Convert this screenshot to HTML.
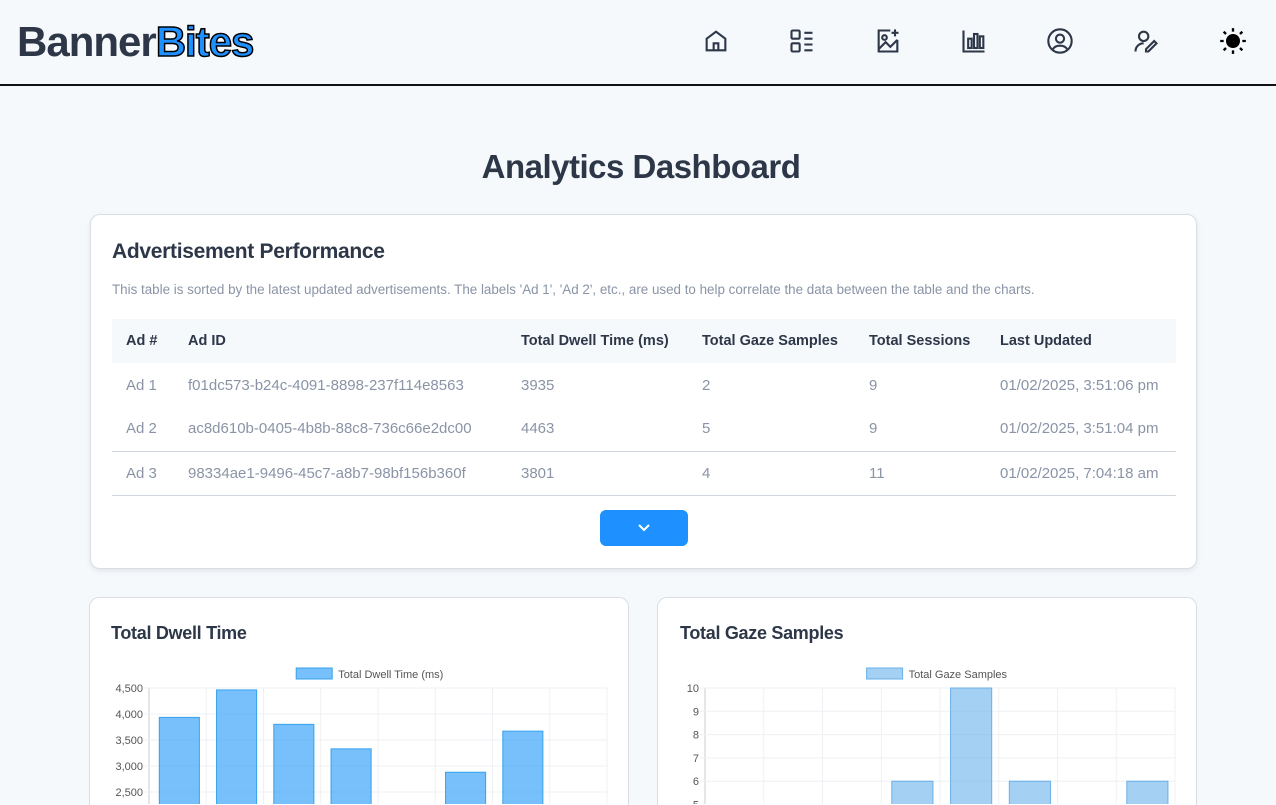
<!DOCTYPE html>
<html style="height:805px;overflow:hidden"><head><meta charset="utf-8"><style>
*{box-sizing:border-box;margin:0;padding:0}
body{width:1276px;height:805px;overflow:hidden;background:#f5f9fc;font-family:"Liberation Sans",sans-serif;color:#2d3748;position:relative}
.hdr{position:absolute;left:0;top:0;width:1276px;height:86px;border-bottom:2px solid #111;background:#f5f9fc}
.logo{position:absolute;left:17px;top:18px;font-size:42px;font-weight:bold;letter-spacing:-1px;color:#2d3748}
.logo span{color:#1e90ff;-webkit-text-stroke:1.5px #000}
.ic{position:absolute;top:27px;width:28px;height:28px}
h1{position:absolute;top:148px;left:3px;width:100%;text-align:center;font-size:33px;font-weight:bold;color:#2d3748;letter-spacing:-0.5px}
.card{position:absolute;background:#fff;border:1px solid #d9dee5;border-radius:10px;box-shadow:0 2px 6px rgba(0,0,0,.08)}
.card.open{border-bottom:none;border-radius:10px 10px 0 0;box-shadow:none}
.ct{position:absolute;left:21px;font-size:21px;font-weight:bold;letter-spacing:-0.3px}
.desc{position:absolute;left:21px;top:67px;font-size:13.4px;color:#8a94a6}
table{position:absolute;left:21px;top:104px;width:1064px;border-collapse:collapse;font-size:14.5px}
th{background:#f5f9fc;height:44px;text-align:left;font-weight:bold;color:#2d3748}
td{height:44px;color:#8a94a6;font-size:15px}
th,td{padding-left:14px}
tr.b td{border-bottom:1px solid #cfd5dc}
.btn{position:absolute;left:509px;top:295px;width:88px;height:36px;background:#1e90ff;border-radius:6px}
</style></head><body>
<div class="hdr">
<div class="logo">Banner<span>Bites</span></div>
<svg class="ic" style="left:702px" viewBox="0 0 24 24" fill="none" stroke="#2d3748" stroke-width="1.8"><path d="M4 10l8-6 8 6v10H4z M10 20v-6h4v6"/></svg>
<svg class="ic" style="left:788px" viewBox="0 0 24 24" fill="none" stroke="#2d3748" stroke-width="1.8"><rect x="3" y="3" width="7" height="7" rx="1"/><rect x="3" y="14" width="7" height="7" rx="1"/><path d="M14 5h7M14 10h7M14 15h7M14 20h7"/></svg>
<svg class="ic" style="left:874px" viewBox="0 0 24 24" fill="none" stroke="#2d3748" stroke-width="1.8"><path d="M14 3H4v18h16V11"/><circle cx="9" cy="9" r="2"/><path d="M4 19l6-6 4 4 6-6M18 2v6M15 5h6"/></svg>
<svg class="ic" style="left:960px" viewBox="0 0 24 24" fill="none" stroke="#2d3748" stroke-width="1.8"><path d="M3 3v18h18"/><rect x="7" y="10" width="3" height="8"/><rect x="12" y="6" width="3" height="12"/><rect x="17" y="8" width="3" height="10"/></svg>
<svg class="ic" style="left:1046px" viewBox="0 0 24 24" fill="none" stroke="#2d3748" stroke-width="1.8"><circle cx="12" cy="12" r="10"/><circle cx="12" cy="10" r="3.5"/><path d="M6 19c2-4 10-4 12 0"/></svg>
<svg class="ic" style="left:1132px" viewBox="0 0 24 24" fill="none" stroke="#2d3748" stroke-width="1.8"><circle cx="10" cy="8" r="4"/><path d="M3 21c0-4 3-7 7-7M14 21l7-7-2-2-7 7v2z"/></svg>
<svg class="ic" style="left:1219px" viewBox="0 0 24 24" stroke="#000" stroke-width="2"><circle cx="12" cy="12" r="5" fill="#000"/><path d="M12 1v3M12 20v3M1 12h3M20 12h3M4 4l2 2M18 18l2 2M4 20l2-2M18 6l2-2"/></svg>
</div>
<h1>Analytics Dashboard</h1>
<div class="card" style="left:90px;top:214px;width:1107px;height:355px">
<div class="ct" style="top:25px">Advertisement Performance</div>
<div class="desc">This table is sorted by the latest updated advertisements. The labels 'Ad 1', 'Ad 2', etc., are used to help correlate the data between the table and the charts.</div>
<table>
<tr><th style="width:62px">Ad #</th><th style="width:333px">Ad ID</th><th style="width:181px">Total Dwell Time (ms)</th><th style="width:167px">Total Gaze Samples</th><th style="width:131px">Total Sessions</th><th>Last Updated</th></tr>
<tr><td>Ad 1</td><td>f01dc573-b24c-4091-8898-237f114e8563</td><td>3935</td><td>2</td><td>9</td><td>01/02/2025, 3:51:06 pm</td></tr>
<tr class="b"><td>Ad 2</td><td>ac8d610b-0405-4b8b-88c8-736c66e2dc00</td><td>4463</td><td>5</td><td>9</td><td>01/02/2025, 3:51:04 pm</td></tr>
<tr class="b"><td>Ad 3</td><td>98334ae1-9496-45c7-a8b7-98bf156b360f</td><td>3801</td><td>4</td><td>11</td><td>01/02/2025, 7:04:18 am</td></tr>
</table>
<div class="btn"><svg width="88" height="36" viewBox="0 0 88 36"><path d="M39 15l5 5 5-5" fill="none" stroke="#fff" stroke-width="2"/></svg></div>
</div>
<div class="card open" style="left:89px;top:597px;width:540px;height:208px">
<div class="ct" style="top:25px;font-size:18px">Total Dwell Time</div></div>
<div class="card open" style="left:657px;top:597px;width:540px;height:208px">
<div class="ct" style="top:25px;font-size:18px;left:22px">Total Gaze Samples</div></div>
<svg id="ch" width="1276" height="805" style="position:absolute;left:0;top:0" font-family="Liberation Sans, sans-serif"><defs><clipPath id="cp"><rect x="0" y="0" width="1276" height="804"/></clipPath></defs></svg>
<script>
const categories=["Ad 1","Ad 2","Ad 3","Ad 4","Ad 5","Ad 6","Ad 7","Ad 8"];
const dwellValues=[3935,4463,3801,3330,2000,2880,3670,1500];
const dwellTicks=[4500,4000,3500,3000,2500];
const gazeValues=[2,5,4,6,10,6,3,6];
const gazeTicks=[10,9,8,7,6,5];
const NS="http://www.w3.org/2000/svg",svg=document.getElementById('ch');
function mk(t,a,p){const e=document.createElementNS(NS,t);for(const k in a)e.setAttribute(k,a[k]);(p||svg).appendChild(e);return e;}
function chart(name,x0,x1,yTop,vTop,pxPer,vals,ticks,fill,stroke,label,fmt){
  const g=mk('g',{'clip-path':'url(#cp)'});
  
  
  const y=v=>yTop+(vTop-v)*pxPer, n=vals.length, w=(x1-x0)/n;
  for(let i=0;i<=n;i++){mk('line',{x1:x0+i*w,x2:x0+i*w,y1:yTop,y2:805,stroke:i?'#eef0f3':'#ccc'},g);}
  ticks.forEach(t=>{mk('line',{x1:x0-5,x2:x1,y1:y(t),y2:y(t),stroke:'#eef0f3'},g);
    const tx=mk('text',{x:x0-6,y:y(t)+4,'text-anchor':'end','font-size':11,fill:'#555'},g);tx.textContent=fmt(t);
    
    });
  vals.forEach((v,i)=>{const r=mk('rect',{x:x0+i*w+w*0.18,y:y(v),width:w*0.7,height:Math.max(0,805-y(v)+10),fill:fill,stroke:stroke,'stroke-width':1},g);
    
    });
  const cx=(x0+x1)/2,lw=label.length*5.6+46;
  const lr=mk('rect',{x:cx-lw/2,y:668,width:36,height:11,fill:fill,stroke:stroke},g);
  
  
  const lt=mk('text',{x:cx-lw/2+42,y:678,'font-size':11,fill:'#555'},g);lt.textContent=label;
  
  
}
chart('dwell-chart',149,607,688,4500,26/500,dwellValues,dwellTicks,'rgba(54,162,250,0.68)','#36a2eb','Total Dwell Time (ms)',t=>t.toLocaleString('en-US'));
chart('gaze-chart',705,1175,688,10,23.3,gazeValues,gazeTicks,'rgba(120,185,238,0.68)','#6ab0ea','Total Gaze Samples',t=>String(t));
</script>
</body></html>
